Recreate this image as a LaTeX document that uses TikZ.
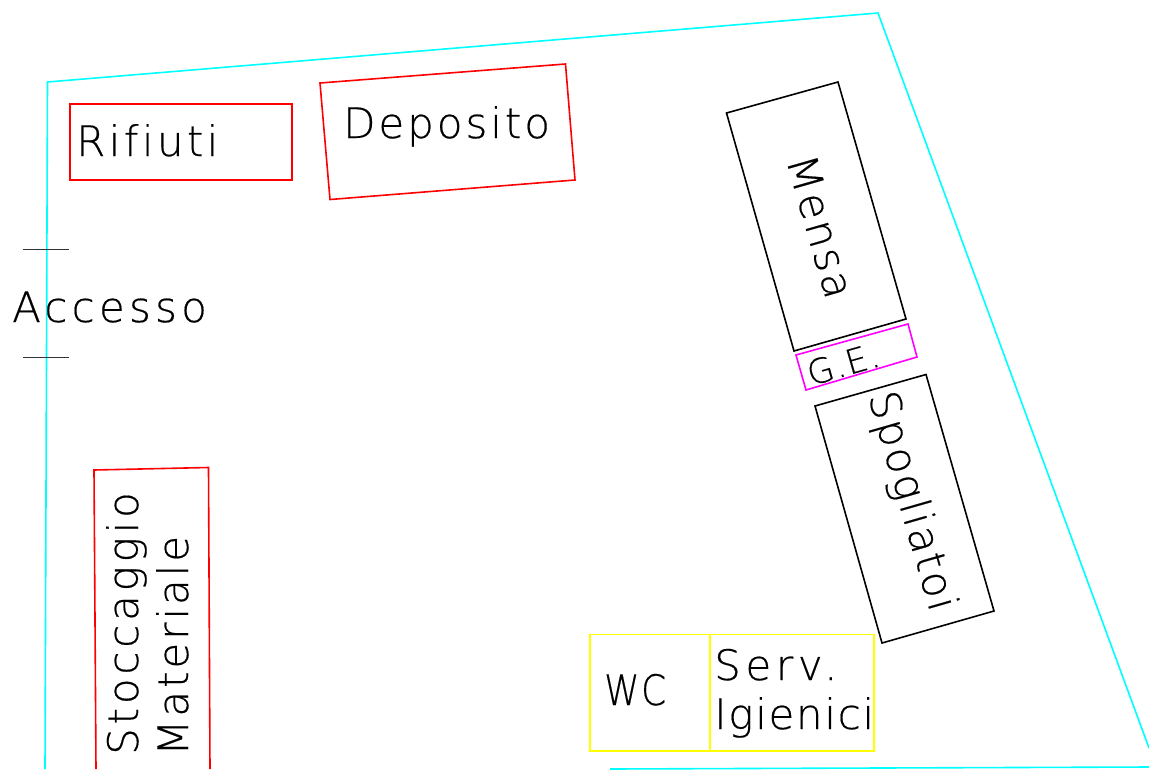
\documentclass[tikz,border=0pt]{standalone}
\usepackage{fontspec}
\setmainfont{DejaVu Sans ExtraLight}[Ligatures=NoCommon,FakeBold=0.4]
\definecolor{cadcyan}{RGB}{0,255,255}
\definecolor{cadmag}{RGB}{255,0,255}
\definecolor{cadyel}{RGB}{255,255,0}
\definecolor{cadred}{RGB}{255,0,0}
\newcommand{\ls}[1]{\addfontfeatures{LetterSpace=#1}}
\begin{document}
\begin{tikzpicture}[x=1pt,y=-1pt,
  wall/.style={draw=cadcyan,line width=1.6pt},
  redbox/.style={draw=cadred,line width=1.6pt},
  blackbox/.style={draw=black,line width=1.6pt},
  magbox/.style={draw=cadmag,line width=1.6pt},
  yelbox/.style={draw=cadyel,line width=1.6pt},
  tick/.style={draw=black!80,line width=0.8pt},
  lab/.style={inner sep=0pt,font=\fontsize{42}{44}\selectfont,anchor=base west,text=black}]
\useasboundingbox (0,0) rectangle (1149,769);
\fill[white] (0,0) rectangle (1149,769);
\draw[wall] (45,769) -- (47.5,82) -- (878,13) -- (1149,748);
\draw[wall] (610,769) -- (1149,767);
\draw[redbox] (70,104) rectangle (292,180);
\draw[redbox] (320,83) -- (565.5,64) -- (575,180) -- (330,199.5) -- cycle;
\draw[redbox] (96,769) -- (94,470) -- (208.5,467.5) -- (210,769);
\draw[blackbox] (726.5,113) -- (838,82) -- (906,319) -- (794,351) -- cycle;
\draw[magbox] (796,355) -- (908,324) -- (917,357) -- (806,390) -- cycle;
\draw[blackbox] (815,406) -- (926,374.5) -- (994,611) -- (882,643) -- cycle;
\draw[yelbox] (590,634.5) rectangle (874,751);
\draw[yelbox] (710,634.5) -- (710,751);
\coordinate (t1a) at (23,249); \coordinate (t1b) at (69,249);
\coordinate (t2a) at (23,357); \coordinate (t2b) at (69,357);
\draw[tick] (t1a) -- (t1b);
\draw[tick] (t2a) -- (t2b);
\node[lab] (rif) at (76,156) {\ls{8}Rifiuti};
\node[lab] (dep) at (343,138) {\ls{7}Deposito};
\node[lab] (acc) at (12,322) {\ls{10}Accesso};
\node[lab,rotate=-74] (men) at (786,160) {\ls{6}Mensa};
\node[lab,rotate=16,font=\fontsize{34}{35}\selectfont] (ge) at (811,386) {\ls{4}G.E.};
\node[lab,rotate=-74] (spo) at (868,396) {\ls{5}Spogliatoi};
\node[lab,rotate=90] (sto) at (138,755) {\ls{9}Stoccaggio};
\node[lab,rotate=90] (mat) at (188,756) {\ls{7}Materiale};
\node[lab] (wc) at (604,705) {\addfontfeatures{FakeStretch=0.85}\ls{4}WC};
\node[lab] (ser) at (714,680) {\ls{11}Serv.};
\node[lab] (ige) at (714,729) {\ls{4}Igienici};
\end{tikzpicture}
\end{document}
